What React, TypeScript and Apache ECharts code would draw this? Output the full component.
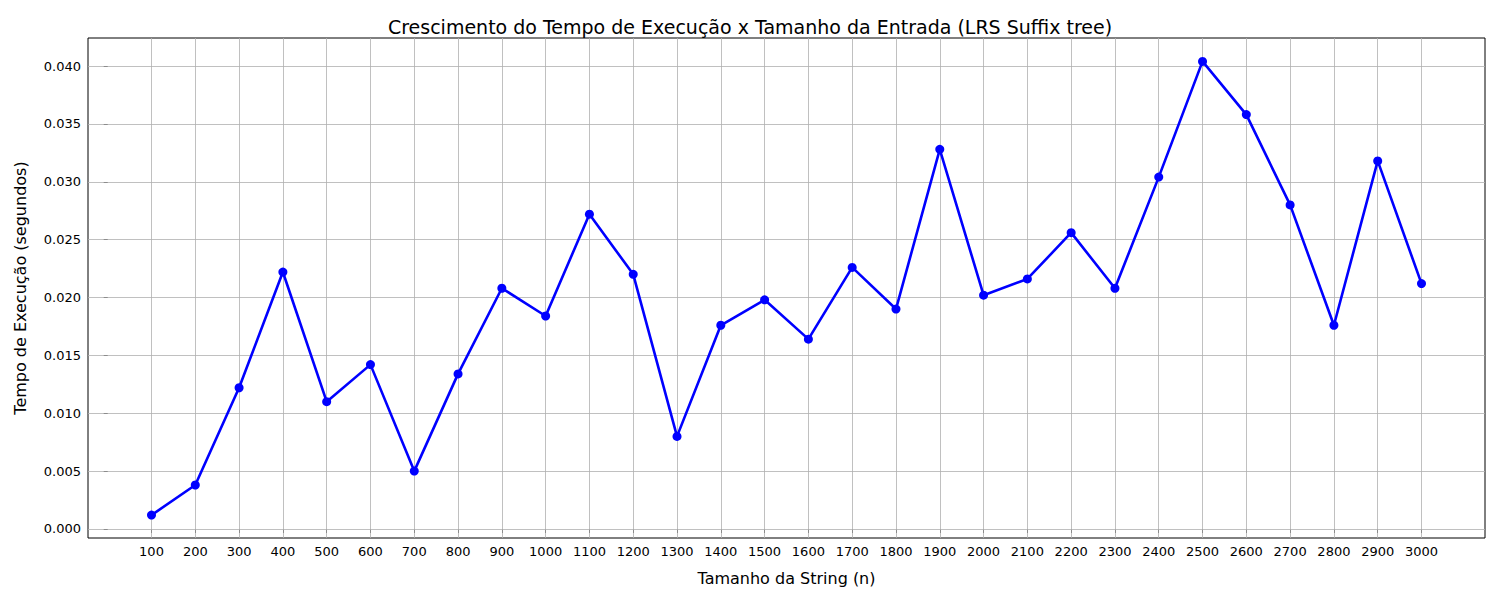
import React, { useEffect, useRef } from 'react';
import * as echarts from 'echarts';

const sizes = [100, 200, 300, 400, 500, 600, 700, 800, 900, 1000, 1100, 1200, 1300, 1400, 1500,
    1600, 1700, 1800, 1900, 2000, 2100, 2200, 2300, 2400, 2500, 2600, 2700, 2800, 2900, 3000];
const times = [0.0012, 0.0038, 0.0122, 0.0222, 0.0110, 0.0142, 0.0050, 0.0134, 0.0208, 0.0184,
    0.0272, 0.0220, 0.0080, 0.0176, 0.0198, 0.0164, 0.0226, 0.0190, 0.0328, 0.0202,
    0.0216, 0.0256, 0.0208, 0.0304, 0.0404, 0.0358, 0.0280, 0.0176, 0.0318, 0.0212];
const yTicks = [0, 0.005, 0.01, 0.015, 0.02, 0.025, 0.03, 0.035, 0.04];

const X_MIN = -45;
const X_MAX = 3145;
const font = 'DejaVu Sans';
const gridLine = { color: '#b0b0b0', width: 0.8, type: 'solid' as const };

const App: React.FC = () => {
    const chartRef = useRef<HTMLDivElement>(null);

    useEffect(() => {
        if (!chartRef.current) return;
        const chart = echarts.init(chartRef.current, undefined, { renderer: 'svg' });

        chart.setOption({
            animation: false,
            textStyle: { fontFamily: font },
            title: {
                text: 'Crescimento do Tempo de Execução x Tamanho da Entrada (LRS Suffix tree)',
                left: 'center',
                top: 12,
                textStyle: { fontFamily: font, fontSize: 19, fontWeight: 'normal', color: '#000' }
            },
            grid: { left: 88, right: 15, top: 38, bottom: 62, show: true, borderColor: '#000', borderWidth: 1 },
            xAxis: {
                type: 'value',
                min: X_MIN,
                max: X_MAX,
                name: 'Tamanho da String (n)',
                nameLocation: 'middle',
                nameGap: 32,
                nameTextStyle: { fontSize: 16, color: '#000', fontFamily: font },
                axisLine: { show: false },
                splitLine: { show: false },
                axisTick: { show: true, customValues: sizes, length: 4, lineStyle: { color: '#000' } },
                axisLabel: { customValues: sizes, fontSize: 13, color: '#000', margin: 7, formatter: (v: number) => String(v) }
            },
            yAxis: {
                type: 'value',
                min: -0.00078,
                max: 0.04242,
                name: 'Tempo de Execução (segundos)',
                nameLocation: 'middle',
                nameGap: 60,
                nameTextStyle: { fontSize: 16, color: '#000', fontFamily: font },
                axisLine: { show: false },
                splitLine: { show: false },
                axisTick: { show: true, customValues: yTicks, length: 4, lineStyle: { color: '#000' } },
                axisLabel: {
                    customValues: yTicks, fontSize: 13, color: '#000', margin: 7,
                    formatter: (v: number) => v.toFixed(3)
                }
            },
            series: [
                {
                    type: 'line',
                    data: [],
                    silent: true,
                    markLine: {
                        silent: true,
                        symbol: 'none',
                        label: { show: false },
                        lineStyle: gridLine,
                        data: sizes.map(x => ({ xAxis: x }))
                    }
                },
                {
                    type: 'line',
                    data: [],
                    silent: true,
                    markLine: {
                        silent: true,
                        symbol: 'none',
                        label: { show: false },
                        lineStyle: gridLine,
                        data: yTicks.map(y => [{ coord: [X_MIN, y] }, { coord: [X_MAX, y] }])
                    }
                },
                {
                    type: 'line',
                    z: 5,
                    data: sizes.map((x, i) => [x, times[i]]),
                    lineStyle: { color: '#0000ff', width: 2.6 },
                    itemStyle: { color: '#0000ff' },
                    symbol: 'circle',
                    symbolSize: 9,
                    showAllSymbol: true
                }
            ]
        });

        return () => {
            chart.dispose();
        };
    }, []);

    return <div ref={chartRef} style={{ position: 'fixed', left: 0, top: 0, width: '1500px', height: '600px', background: '#fff' }} />;
};

export default App;
